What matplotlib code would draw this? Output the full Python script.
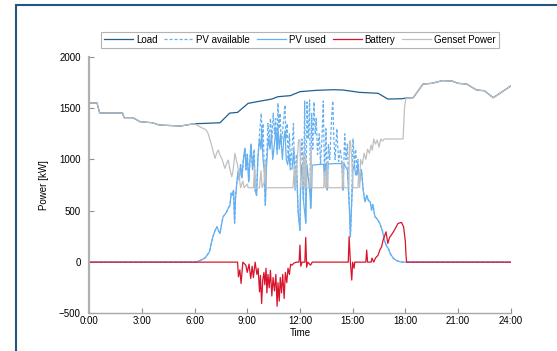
import matplotlib
matplotlib.use("Agg")
import matplotlib.pyplot as plt
from matplotlib.patches import Rectangle

plt.rcParams['font.family'] = ['Liberation Sans', 'DejaVu Sans']

# Load demand [kW] over the day (hours)
load_t = [0, 0.45, 0.6, 1.9, 2.0, 2.5, 2.9, 3.6, 4.0, 5.2, 5.75, 6.0, 7.45, 8.0, 8.45,
          9.05, 9.55, 10.4, 10.75, 11.45, 12.0, 12.95, 13.9, 14.45, 15.4, 16.45, 17.0,
          17.8, 18.05, 18.45, 19.0, 19.5, 20.1, 20.65, 21.0, 21.5, 22.05, 22.5, 23.0, 24.0]
load_p = [1550, 1550, 1453, 1453, 1407, 1407, 1368, 1358, 1336, 1326, 1342, 1348, 1358, 1452, 1459,
          1547, 1563, 1589, 1612, 1622, 1661, 1674, 1680, 1677, 1654, 1645, 1589,
          1592, 1599, 1602, 1735, 1742, 1768, 1765, 1742, 1735, 1677, 1670, 1602, 1716]

# PV power available before curtailment
pv_av_t = [0, 6.05, 6.3, 6.6, 6.85, 6.95, 7.05, 7.15, 7.27, 7.38, 7.45, 7.55, 7.62, 7.75, 7.83,
           7.93, 8.02, 8.08, 8.15, 8.22, 8.28, 8.33, 8.4, 8.48, 8.55, 8.62, 8.7, 8.78, 8.87,
           8.93, 9.0, 9.1, 9.2, 9.3, 9.4, 9.45, 9.53, 9.62, 9.72, 9.8, 9.85, 9.9, 9.97,
           10.03, 10.1, 10.18, 10.25, 10.32, 10.4, 10.48, 10.55, 10.62, 10.7, 10.75, 10.8,
           10.87, 10.93, 11.0, 11.08, 11.15, 11.2, 11.27, 11.33, 11.4, 11.47, 11.55, 11.63,
           11.7, 11.8, 11.9, 12.0, 12.05, 12.12, 12.2, 12.27, 12.33, 12.4, 12.47, 12.55,
           12.6, 12.67, 12.73, 12.8, 12.87, 12.93, 13.0, 13.1, 13.17, 13.25, 13.33, 13.4,
           13.48, 13.55, 13.62, 13.7, 13.8, 13.87, 13.93, 14.0, 14.1, 14.2, 14.3, 14.38,
           14.45, 14.55, 14.62, 14.7, 14.82, 14.87, 14.95, 15.02, 15.1, 15.17, 15.25, 15.3,
           15.38, 15.5, 15.6, 15.7, 15.8, 15.9, 16.0, 16.08, 16.15, 16.27, 16.4, 16.55,
           16.7, 16.83, 16.95, 17.03, 17.15, 17.32, 17.5, 17.7, 17.8, 24]
pv_av_p = [0, 0, 15, 40, 100, 180, 250, 300, 345, 300, 280, 380, 440, 470, 490,
           530, 555, 672, 650, 700, 380, 620, 760, 880, 800, 950, 820, 1000, 1110,
           900, 1050, 800, 1150, 950, 1100, 700, 650, 1050, 1300, 1450, 1200, 1350, 900,
           555, 1000, 1350, 1150, 1400, 1200, 1450, 1250, 1400, 1100, 1550, 1300,
           1450, 1150, 1250, 1400, 1530, 1200, 1350, 1000, 1250, 950, 1100, 1350,
           800, 1050, 480, 310, 1000, 1200, 600, 1570, 380, 1560, 1200, 1580,
           526, 1450, 1100, 1560, 1250, 1400, 1050, 1250, 950, 1200, 1570, 800,
           1300, 700, 1150, 1000, 1400, 1570, 1200, 1000, 1300, 980, 1100, 980,
           700, 1250, 1000, 1150, 500, 247, 605, 1200, 950, 1100, 850, 1000,
           770, 900, 700, 588, 650, 600, 588, 507, 560, 442, 420, 377,
           300, 198, 150, 134, 80, 36, 15, 3, 0, 0]

# PV power actually fed to the load
pv_used_t = [0, 6.05, 6.3, 6.6, 6.85, 6.95, 7.05, 7.15, 7.27, 7.38, 7.45, 7.55, 7.62, 7.75, 7.83,
             7.93, 8.02, 8.08, 8.15, 8.22, 8.28, 8.33, 8.4, 8.48, 8.55, 8.62, 8.7, 8.78, 8.87,
             8.93, 9.0, 9.08, 9.15, 9.22, 9.3, 9.38, 9.45, 9.53, 9.6, 9.7, 9.78, 9.82, 9.9,
             9.97, 10.03, 10.1, 10.2, 10.3, 10.38, 10.45, 10.55, 10.63, 10.7, 10.75, 10.82,
             10.9, 11.0, 11.08, 11.15, 11.22, 11.3, 11.38, 11.45, 11.55, 11.65, 11.72, 11.8,
             11.9, 12.0, 12.05, 12.1, 12.2, 12.33, 12.4, 12.55, 12.63, 12.7, 13.0, 13.35,
             13.4, 13.45, 13.52, 13.55, 13.6, 14.0, 14.4, 14.45, 14.5, 14.7, 14.82, 14.87,
             14.95, 15.02, 15.1, 15.17, 15.25, 15.3, 15.38, 15.5, 15.6, 15.7, 15.8, 15.9,
             16.0, 16.08, 16.15, 16.27, 16.4, 16.55, 16.7, 16.83, 16.95, 17.03, 17.15,
             17.32, 17.5, 17.7, 17.8, 24]
pv_used_p = [0, 0, 15, 40, 100, 180, 250, 300, 345, 300, 280, 380, 440, 470, 490,
             530, 555, 672, 650, 700, 380, 620, 760, 880, 800, 950, 820, 1000, 1110,
             900, 1050, 780, 980, 1150, 900, 1050, 700, 650, 1000, 1200, 1100, 1300, 1000,
             900, 555, 950, 1200, 1100, 1250, 1000, 1150, 1300, 1050, 1320, 1100,
             1250, 1000, 1200, 1280, 1000, 950, 1050, 900, 910, 1100, 700, 920,
             480, 310, 900, 940, 600, 380, 950, 700, 526, 945, 950, 955,
             800, 955, 955, 700, 957, 960, 960, 700, 960, 900, 500, 247,
             605, 900, 950, 850, 850, 950, 770, 900, 700, 588, 650, 600,
             588, 507, 560, 442, 420, 377, 300, 198, 150, 134, 80,
             36, 15, 3, 0, 0]

# Battery power (positive = discharging)
batt_t = [0, 8.45, 8.5, 8.58, 8.65, 8.75, 8.92, 9.0, 9.1, 9.2, 9.28, 9.35, 9.45, 9.55, 9.62,
          9.7, 9.75, 9.82, 9.88, 9.95, 10.0, 10.07, 10.12, 10.18, 10.25, 10.32, 10.4, 10.47,
          10.55, 10.63, 10.7, 10.75, 10.82, 10.88, 10.95, 11.02, 11.1, 11.17, 11.25, 11.32,
          11.4, 11.47, 11.55, 11.65, 11.8, 11.95, 12.0, 12.05, 12.12, 12.28, 12.33, 12.38,
          12.45, 12.6, 12.7, 14.75, 14.8, 14.87, 14.95, 15.0, 15.08, 15.12, 15.75, 15.8,
          15.85, 16.05, 16.1, 16.2, 16.3, 16.45, 16.55, 16.65, 16.73, 16.9, 17.0, 17.1,
          17.2, 17.38, 17.58, 17.78, 17.9, 18.0, 18.03, 18.07, 24]
batt_p = [0, 0, -143, -75, -208, 0, -30, -100, -20, -160, -40, -150, 0, -120, -60,
          -290, -130, -403, -180, -100, -220, -60, -300, -120, -250, -80, -330, -150,
          -280, -120, -429, -200, -380, -150, -300, -120, -354, -100, -200, -60,
          -120, -20, -30, -10, 0, 0, 166, -40, 0, 0, 241, -50,
          0, -30, 0, 0, 247, 0, -175, 0, -60, 0, 0, 117,
          0, 0, 39, 0, 40, 68, 120, 150, 214, 295, 182, 240,
          263, 312, 377, 387, 344, 200, 85, 0, 0]

# Diesel genset output
gen_t = [0, 0.45, 0.6, 1.9, 2.0, 2.5, 2.9, 3.6, 4.0, 5.2, 5.75, 6.0, 6.12, 6.3, 6.48, 6.65,
         6.77, 6.9, 6.97, 7.1, 7.17, 7.25, 7.35, 7.45, 7.55, 7.62, 7.73, 7.82, 7.92, 8.02,
         8.12, 8.2, 8.3, 8.38, 8.45, 8.55, 8.62, 8.75, 8.82, 9.0, 9.05, 9.35, 9.42, 9.48,
         9.7, 9.78, 9.85, 9.97, 10.03, 10.08, 11.6, 11.7, 11.75, 11.85, 11.92, 12.0, 12.05,
         12.15, 12.2, 12.27, 12.33, 12.38, 12.58, 12.63, 12.68, 13.35, 13.4, 13.45, 13.52,
         13.55, 13.6, 14.4, 14.45, 14.5, 14.78, 14.82, 14.87, 14.95, 15.02, 15.3, 15.35,
         15.4, 15.45, 15.55, 15.65, 15.75, 15.85, 15.95, 16.05, 16.12, 16.2, 16.3, 16.4,
         16.5, 16.6, 16.7, 16.8, 17.87, 17.95, 18.02, 18.05, 18.45, 19.0, 19.5, 20.1,
         20.65, 21.0, 21.5, 22.05, 22.5, 23.0, 24.0]
gen_p = [1550, 1550, 1453, 1453, 1407, 1407, 1368, 1358, 1336, 1326, 1342, 1348, 1336, 1320, 1303, 1290,
         1255, 1180, 1141, 1050, 1011, 1060, 1092, 1040, 1011, 970, 913, 960, 994, 900,
         832, 900, 1060, 994, 945, 820, 725, 790, 725, 760, 725, 725, 930, 725,
         725, 890, 725, 780, 995, 725, 725, 945, 725, 1000, 1190, 1190, 725,
         725, 1060, 725, 1040, 725, 725, 1100, 725, 725, 878, 725, 725,
         978, 725, 725, 977, 725, 725, 1175, 1183, 1000, 725, 725, 880,
         725, 1000, 950, 1060, 1000, 1100, 1060, 1140, 1090, 1200, 1150, 1190,
         1120, 1200, 1180, 1200, 1200, 1500, 1590, 1599, 1602, 1735, 1742, 1768,
         1765, 1742, 1735, 1677, 1670, 1602, 1716]

hours = [0, 3, 6, 9, 12, 15, 18, 21, 24]
hour_labels = ['0:00', '3:00', '6:00', '9:00', '12:00', '15:00', '18:00', '21:00', '24:00']

fig = plt.figure(figsize=(5.57, 3.51), dpi=100)
ax = fig.add_axes([0.16, 0.107, 0.757, 0.731])

# blue outer frame around the figure
fig.patches.append(Rectangle((16 / 557, -0.5), 1.2, 1.5 - 5 / 351, transform=fig.transFigure,
                             fill=False, edgecolor='#24557f', linewidth=1.5))

lw = 0.9
ax.plot(load_t, load_p, color='#1f5f8e', lw=lw, label='Load')
ax.plot(pv_av_t, pv_av_p, color='#66b0f0', lw=lw, ls=(0, (2.5, 1.5)), label='PV available')
ax.plot(pv_used_t, pv_used_p, color='#66b0f0', lw=lw, label='PV used')
ax.plot(batt_t, batt_p, color='#d8142c', lw=lw, label='Battery')
ax.plot(gen_t, gen_p, color='#c0c0c0', lw=lw, label='Genset Power')

ax.set_xlim(0, 24)
ax.set_ylim(-500, 2000)
ax.set_xticks(hours)
ax.set_xticklabels(hour_labels)
ax.set_yticks([-500, 0, 500, 1000, 1500, 2000])

for side in ['top', 'right']:
    ax.spines[side].set_visible(False)
ax.spines['left'].set_color('#b0b0b0')
ax.spines['left'].set_linewidth(1.6)
ax.spines['bottom'].set_color('#a8a8a8')
ax.spines['bottom'].set_linewidth(1.0)

ax.tick_params(axis='both', direction='in', length=3.5, color='#909090', labelsize=7)
ax.tick_params(axis='y', pad=6)
ax.tick_params(axis='x', pad=2)

ax.set_xlabel('Time', fontsize=7, labelpad=1)
ax.set_ylabel('Power [kW]', fontsize=7, labelpad=7)

leg = ax.legend(loc='lower center', bbox_to_anchor=(0.5, 1.036), ncol=5, fontsize=7,
                frameon=True, fancybox=False, borderaxespad=0, borderpad=0.3,
                handlelength=3.0, handletextpad=0.3, columnspacing=0.7)
leg.get_frame().set_edgecolor('#a0a0a0')
leg.get_frame().set_linewidth(0.8)

fig.savefig('out.png', dpi=100)
